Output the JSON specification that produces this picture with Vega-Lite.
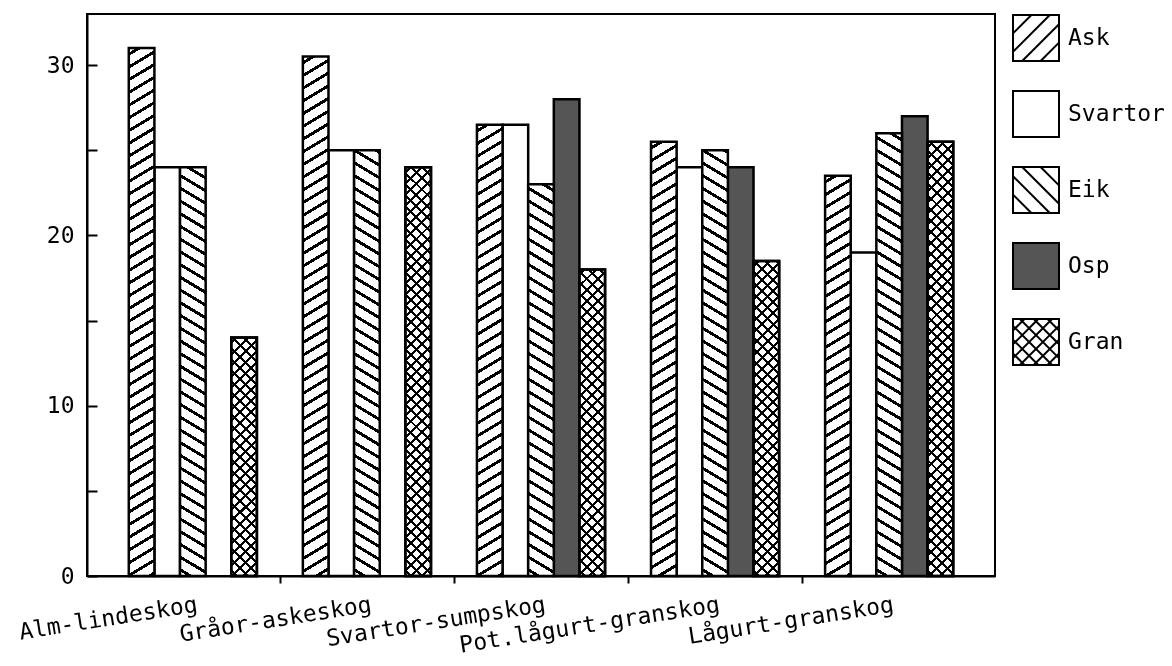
{
  "$schema": "https://vega.github.io/schema/vega-lite/v6.json",
  "width": 908,
  "height": 562,
  "autosize": {"type": "none"},
  "padding": {"left": 87, "top": 14, "right": 177, "bottom": 90},
  "background": "white",
  "config": {
    "font": "DejaVu Sans Mono",
    "view": {"stroke": "black", "strokeWidth": 2}
  },
  "params": [
    {"name": "hs", "value": [
      {"offset":0.0081,"color":"#fff"},{"offset":0.0081,"color":"#000"},{"offset":0.0141,"color":"#000"},{"offset":0.0141,"color":"#fff"},
      {"offset":0.0303,"color":"#fff"},{"offset":0.0303,"color":"#000"},{"offset":0.0363,"color":"#000"},{"offset":0.0363,"color":"#fff"},
      {"offset":0.0525,"color":"#fff"},{"offset":0.0525,"color":"#000"},{"offset":0.0585,"color":"#000"},{"offset":0.0585,"color":"#fff"},
      {"offset":0.0748,"color":"#fff"},{"offset":0.0748,"color":"#000"},{"offset":0.0808,"color":"#000"},{"offset":0.0808,"color":"#fff"},
      {"offset":0.097,"color":"#fff"},{"offset":0.097,"color":"#000"},{"offset":0.103,"color":"#000"},{"offset":0.103,"color":"#fff"},
      {"offset":0.1192,"color":"#fff"},{"offset":0.1192,"color":"#000"},{"offset":0.1252,"color":"#000"},{"offset":0.1252,"color":"#fff"},
      {"offset":0.1414,"color":"#fff"},{"offset":0.1414,"color":"#000"},{"offset":0.1474,"color":"#000"},{"offset":0.1474,"color":"#fff"},
      {"offset":0.1637,"color":"#fff"},{"offset":0.1637,"color":"#000"},{"offset":0.1697,"color":"#000"},{"offset":0.1697,"color":"#fff"},
      {"offset":0.1859,"color":"#fff"},{"offset":0.1859,"color":"#000"},{"offset":0.1919,"color":"#000"},{"offset":0.1919,"color":"#fff"},
      {"offset":0.2081,"color":"#fff"},{"offset":0.2081,"color":"#000"},{"offset":0.2141,"color":"#000"},{"offset":0.2141,"color":"#fff"},
      {"offset":0.2303,"color":"#fff"},{"offset":0.2303,"color":"#000"},{"offset":0.2363,"color":"#000"},{"offset":0.2363,"color":"#fff"},
      {"offset":0.2525,"color":"#fff"},{"offset":0.2525,"color":"#000"},{"offset":0.2585,"color":"#000"},{"offset":0.2585,"color":"#fff"},
      {"offset":0.2748,"color":"#fff"},{"offset":0.2748,"color":"#000"},{"offset":0.2808,"color":"#000"},{"offset":0.2808,"color":"#fff"},
      {"offset":0.297,"color":"#fff"},{"offset":0.297,"color":"#000"},{"offset":0.303,"color":"#000"},{"offset":0.303,"color":"#fff"},
      {"offset":0.3192,"color":"#fff"},{"offset":0.3192,"color":"#000"},{"offset":0.3252,"color":"#000"},{"offset":0.3252,"color":"#fff"},
      {"offset":0.3414,"color":"#fff"},{"offset":0.3414,"color":"#000"},{"offset":0.3474,"color":"#000"},{"offset":0.3474,"color":"#fff"},
      {"offset":0.3637,"color":"#fff"},{"offset":0.3637,"color":"#000"},{"offset":0.3697,"color":"#000"},{"offset":0.3697,"color":"#fff"},
      {"offset":0.3859,"color":"#fff"},{"offset":0.3859,"color":"#000"},{"offset":0.3919,"color":"#000"},{"offset":0.3919,"color":"#fff"},
      {"offset":0.4081,"color":"#fff"},{"offset":0.4081,"color":"#000"},{"offset":0.4141,"color":"#000"},{"offset":0.4141,"color":"#fff"},
      {"offset":0.4303,"color":"#fff"},{"offset":0.4303,"color":"#000"},{"offset":0.4363,"color":"#000"},{"offset":0.4363,"color":"#fff"},
      {"offset":0.4525,"color":"#fff"},{"offset":0.4525,"color":"#000"},{"offset":0.4585,"color":"#000"},{"offset":0.4585,"color":"#fff"},
      {"offset":0.4748,"color":"#fff"},{"offset":0.4748,"color":"#000"},{"offset":0.4808,"color":"#000"},{"offset":0.4808,"color":"#fff"},
      {"offset":0.497,"color":"#fff"},{"offset":0.497,"color":"#000"},{"offset":0.503,"color":"#000"},{"offset":0.503,"color":"#fff"},
      {"offset":0.5192,"color":"#fff"},{"offset":0.5192,"color":"#000"},{"offset":0.5252,"color":"#000"},{"offset":0.5252,"color":"#fff"},
      {"offset":0.5414,"color":"#fff"},{"offset":0.5414,"color":"#000"},{"offset":0.5474,"color":"#000"},{"offset":0.5474,"color":"#fff"},
      {"offset":0.5637,"color":"#fff"},{"offset":0.5637,"color":"#000"},{"offset":0.5697,"color":"#000"},{"offset":0.5697,"color":"#fff"},
      {"offset":0.5859,"color":"#fff"},{"offset":0.5859,"color":"#000"},{"offset":0.5919,"color":"#000"},{"offset":0.5919,"color":"#fff"},
      {"offset":0.6081,"color":"#fff"},{"offset":0.6081,"color":"#000"},{"offset":0.6141,"color":"#000"},{"offset":0.6141,"color":"#fff"},
      {"offset":0.6303,"color":"#fff"},{"offset":0.6303,"color":"#000"},{"offset":0.6363,"color":"#000"},{"offset":0.6363,"color":"#fff"},
      {"offset":0.6525,"color":"#fff"},{"offset":0.6525,"color":"#000"},{"offset":0.6585,"color":"#000"},{"offset":0.6585,"color":"#fff"},
      {"offset":0.6748,"color":"#fff"},{"offset":0.6748,"color":"#000"},{"offset":0.6808,"color":"#000"},{"offset":0.6808,"color":"#fff"},
      {"offset":0.697,"color":"#fff"},{"offset":0.697,"color":"#000"},{"offset":0.703,"color":"#000"},{"offset":0.703,"color":"#fff"},
      {"offset":0.7192,"color":"#fff"},{"offset":0.7192,"color":"#000"},{"offset":0.7252,"color":"#000"},{"offset":0.7252,"color":"#fff"},
      {"offset":0.7414,"color":"#fff"},{"offset":0.7414,"color":"#000"},{"offset":0.7474,"color":"#000"},{"offset":0.7474,"color":"#fff"},
      {"offset":0.7637,"color":"#fff"},{"offset":0.7637,"color":"#000"},{"offset":0.7697,"color":"#000"},{"offset":0.7697,"color":"#fff"},
      {"offset":0.7859,"color":"#fff"},{"offset":0.7859,"color":"#000"},{"offset":0.7919,"color":"#000"},{"offset":0.7919,"color":"#fff"},
      {"offset":0.8081,"color":"#fff"},{"offset":0.8081,"color":"#000"},{"offset":0.8141,"color":"#000"},{"offset":0.8141,"color":"#fff"},
      {"offset":0.8303,"color":"#fff"},{"offset":0.8303,"color":"#000"},{"offset":0.8363,"color":"#000"},{"offset":0.8363,"color":"#fff"},
      {"offset":0.8525,"color":"#fff"},{"offset":0.8525,"color":"#000"},{"offset":0.8585,"color":"#000"},{"offset":0.8585,"color":"#fff"},
      {"offset":0.8748,"color":"#fff"},{"offset":0.8748,"color":"#000"},{"offset":0.8808,"color":"#000"},{"offset":0.8808,"color":"#fff"},
      {"offset":0.897,"color":"#fff"},{"offset":0.897,"color":"#000"},{"offset":0.903,"color":"#000"},{"offset":0.903,"color":"#fff"},
      {"offset":0.9192,"color":"#fff"},{"offset":0.9192,"color":"#000"},{"offset":0.9252,"color":"#000"},{"offset":0.9252,"color":"#fff"},
      {"offset":0.9414,"color":"#fff"},{"offset":0.9414,"color":"#000"},{"offset":0.9474,"color":"#000"},{"offset":0.9474,"color":"#fff"},
      {"offset":0.9637,"color":"#fff"},{"offset":0.9637,"color":"#000"},{"offset":0.9697,"color":"#000"},{"offset":0.9697,"color":"#fff"},
      {"offset":0.9859,"color":"#fff"},{"offset":0.9859,"color":"#000"},{"offset":0.9919,"color":"#000"},{"offset":0.9919,"color":"#fff"}
    ]}
  ],
  "data": {"values": [
    {"type": "Alm-lindeskog", "series": "Ask", "value": 31},
    {"type": "Alm-lindeskog", "series": "Svartor", "value": 24},
    {"type": "Alm-lindeskog", "series": "Eik", "value": 24},
    {"type": "Alm-lindeskog", "series": "Gran", "value": 14},
    {"type": "Gråor-askeskog", "series": "Ask", "value": 30.5},
    {"type": "Gråor-askeskog", "series": "Svartor", "value": 25},
    {"type": "Gråor-askeskog", "series": "Eik", "value": 25},
    {"type": "Gråor-askeskog", "series": "Gran", "value": 24},
    {"type": "Svartor-sumpskog", "series": "Ask", "value": 26.5},
    {"type": "Svartor-sumpskog", "series": "Svartor", "value": 26.5},
    {"type": "Svartor-sumpskog", "series": "Eik", "value": 23},
    {"type": "Svartor-sumpskog", "series": "Osp", "value": 28},
    {"type": "Svartor-sumpskog", "series": "Gran", "value": 18},
    {"type": "Pot.lågurt-granskog", "series": "Ask", "value": 25.5},
    {"type": "Pot.lågurt-granskog", "series": "Svartor", "value": 24},
    {"type": "Pot.lågurt-granskog", "series": "Eik", "value": 25},
    {"type": "Pot.lågurt-granskog", "series": "Osp", "value": 24},
    {"type": "Pot.lågurt-granskog", "series": "Gran", "value": 18.5},
    {"type": "Lågurt-granskog", "series": "Ask", "value": 23.5},
    {"type": "Lågurt-granskog", "series": "Svartor", "value": 19},
    {"type": "Lågurt-granskog", "series": "Eik", "value": 26},
    {"type": "Lågurt-granskog", "series": "Osp", "value": 27},
    {"type": "Lågurt-granskog", "series": "Gran", "value": 25.5}
  ]},
  "encoding": {
    "x": {
      "field": "type", "type": "nominal",
      "sort": ["Alm-lindeskog", "Gråor-askeskog", "Svartor-sumpskog", "Pot.lågurt-granskog", "Lågurt-granskog"],
      "scale": {"paddingInner": 0.264, "paddingOuter": 0.24},
      "title": null,
      "axis": {
        "domainColor": "black", "domainWidth": 2,
        "tickColor": {"condition": {"test": "datum.value === 'Alm-lindeskog'", "value": "transparent"}, "value": "black"},
        "tickWidth": 2, "tickSize": 7, "tickOffset": -87,
        "labelOffset": 92, "labelAngle": -9, "labelAlign": "right", "labelBaseline": "alphabetic",
        "labelPadding": 28, "labelFont": "DejaVu Sans Mono", "labelFontSize": 23, "labelColor": "black",
        "labelLimit": 500, "labelOverlap": false, "grid": false
      }
    },
    "xOffset": {
      "field": "series", "type": "nominal",
      "sort": ["Ask", "Svartor", "Eik", "Osp", "Gran"],
      "scale": {"domain": ["Ask", "Svartor", "Eik", "Osp", "Gran"], "paddingInner": 0, "paddingOuter": 0}
    },
    "y": {
      "field": "value", "type": "quantitative",
      "scale": {"domain": [0, 33], "nice": false, "zero": true},
      "title": null,
      "axis": {
        "values": [0, 5, 10, 15, 20, 25, 30],
        "labelExpr": "datum.value % 10 === 0 ? datum.label : ''",
        "domainColor": "black", "domainWidth": 2,
        "tickColor": "black", "tickWidth": 2, "tickSize": -10,
        "labelPadding": 23, "labelFont": "DejaVu Sans Mono", "labelFontSize": 23, "labelColor": "black",
        "grid": false
      }
    }
  },
  "layer": [
    {
      "mark": {"type": "point", "filled": true, "opacity": 1, "size": 64, "stroke": "black", "strokeWidth": 2},
      "encoding": {
        "y": {"datum": 5},
        "fill": {
          "field": "series", "type": "nominal",
          "scale": {"domain": ["Ask", "Svartor", "Eik", "Osp", "Gran"], "range": ["white", "white", "white", "#555555", "white"]},
          "legend": {
            "title": null, "orient": "right", "offset": 17, "padding": 0,
            "symbolSize": 2116, "symbolStrokeWidth": 2, "symbolStrokeColor": "black", "symbolOpacity": 1,
            "labelFont": "DejaVu Sans Mono", "labelFontSize": 23, "labelColor": "black",
            "labelOffset": 8, "rowPadding": 22, "labelLimit": 300,
            "encode": {"symbols": {"update": {"stroke": {"value": "black"}, "strokeWidth": {"value": 2}, "opacity": {"value": 1}}}}
          }
        },
        "shape": {
          "field": "series", "type": "nominal",
          "scale": {"domain": ["Ask", "Svartor", "Eik", "Osp", "Gran"], "range": [
            "M-1,-1H1V1H-1Z M-1,-0.2L-0.2,-1 M-1,0.6L0.6,-1 M-0.6,1L1,-0.6 M0.2,1L1,0.2",
            "M-1,-1H1V1H-1Z",
            "M-1,-1H1V1H-1Z M0.2,-1L1,-0.2 M-0.6,-1L1,0.6 M-1,-0.6L0.6,1 M-1,0.2L-0.2,1",
            "M-1,-1H1V1H-1Z",
            "M-1,-1H1V1H-1Z M-1,-0.5L-0.5,-1 M-1,0.1L0.1,-1 M-1,0.7L0.7,-1 M-0.7,1L1,-0.7 M-0.1,1L1,-0.1 M0.5,1L1,0.5 M0.5,-1L1,-0.5 M-0.1,-1L1,0.1 M-0.7,-1L1,0.7 M-1,-0.7L0.7,1 M-1,-0.1L0.1,1 M-1,0.5L-0.5,1"
          ]},
          "legend": {
            "title": null, "orient": "right", "offset": 17, "padding": 0,
            "symbolSize": 2116, "symbolStrokeWidth": 2, "symbolStrokeColor": "black", "symbolOpacity": 1,
            "labelFont": "DejaVu Sans Mono", "labelFontSize": 23, "labelColor": "black",
            "labelOffset": 8, "rowPadding": 22, "labelLimit": 300,
            "encode": {"symbols": {"update": {"stroke": {"value": "black"}, "strokeWidth": {"value": 2}, "opacity": {"value": 1}}}}
          }
        }
      }
    },
    {
      "transform": [{"filter": "datum.series === 'Svartor' || datum.series === 'Osp'"}],
      "mark": {"type": "bar", "stroke": "black", "strokeWidth": 2.5},
      "encoding": {
        "fill": {"condition": {"test": "datum.series === 'Osp'", "value": "#555555"}, "value": "white"}
      }
    },
    {
      "transform": [{"filter": "datum.series === 'Ask'"}],
      "mark": {"type": "bar", "stroke": "black", "strokeWidth": 2.5,
        "fill": {"expr": "{gradient: 'linear', x1: 0, y1: 0, x2: 30.27 / (datum.value * datum.value), y2: 33.56 / datum.value, stops: hs}"}}
    },
    {
      "transform": [{"filter": "datum.series === 'Eik'"}],
      "mark": {"type": "bar", "stroke": "black", "strokeWidth": 2.5,
        "fill": {"expr": "{gradient: 'linear', x1: 0, y1: 1, x2: 30.27 / (datum.value * datum.value), y2: 1 - 33.56 / datum.value, stops: hs}"}}
    },
    {
      "transform": [{"filter": "datum.series === 'Gran'"}],
      "mark": {"type": "bar", "stroke": "black", "strokeWidth": 2.5,
        "fill": {"expr": "{gradient: 'linear', x1: 0, y1: 1, x2: 43.7 / (datum.value * datum.value), y2: 1 - 29.07 / datum.value, stops: hs}"}}
    },
    {
      "transform": [{"filter": "datum.series === 'Gran'"}],
      "mark": {"type": "bar", "stroke": "black", "strokeWidth": 2.5, "blend": "multiply",
        "fill": {"expr": "{gradient: 'linear', x1: 0, y1: 0, x2: 43.7 / (datum.value * datum.value), y2: 29.07 / datum.value, stops: hs}"}}
    }
  ]
}
